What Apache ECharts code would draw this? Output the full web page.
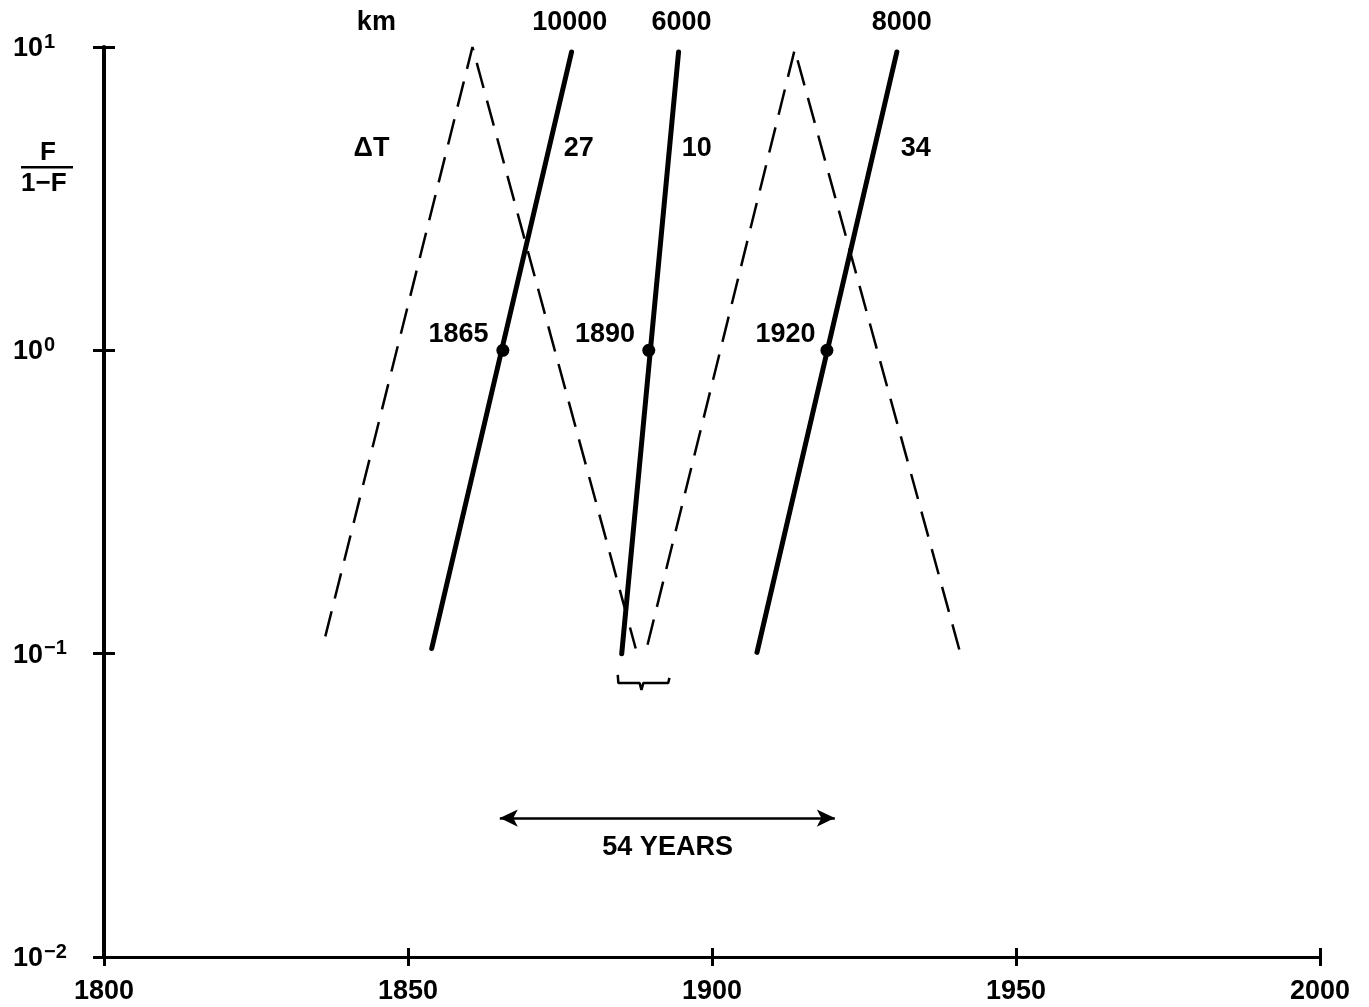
<!DOCTYPE html>
<html>
<head>
<meta charset="utf-8">
<script src="https://cdn.jsdelivr.net/npm/echarts@6/dist/echarts.min.js"></script>
<style>
html,body{margin:0;padding:0;background:#fff;}
#chart{width:1369px;height:1007px;}
</style>
</head>
<body>
<div id="chart"></div>
<script>
// ---- data (x = year, y = F/(1-F), log scale) ----
const xTickYears = [1800, 1850, 1900, 1950, 2000];
const yTickValues = [0.01, 0.1, 1, 10];
const dashedA = [[1836.4, 0.114], [1860.6, 10], [1887.45, 0.104]];
const dashedB = [[1889.4, 0.107], [1913.6, 9.8], [1940.8, 0.101]];
const solid10000 = [[1853.9, 0.104], [1876.9, 9.63]];
const solid6000 = [[1885.15, 0.100], [1894.5, 9.63]];
const solid8000 = [[1907.4, 0.101], [1930.4, 9.63]];
const midpoints = [[1865.6, 1], [1889.6, 1], [1918.9, 1]];
const bracket = [[1884.5, 0.0851], [1884.6, 0.0800], [1888.1, 0.0800], [1888.4, 0.0759], [1888.7, 0.0800], [1892.8, 0.0800], [1893.0, 0.0832]];
const spanArrow = [[1865.1, 0.0287], [1920.2, 0.0287]];
const annotationTexts = ['km', '10000', '6000', '8000', 'ΔT', '27', '10', '34', '1865', '1890', '1920', '54 YEARS'];
const annotationCoords = [
  [1844.8, 12.0], [1876.6, 12.0], [1895.0, 12.0], [1931.2, 12.0],
  [1844.0, 4.64], [1878.1, 4.64], [1897.5, 4.64], [1933.5, 4.64],
  [1858.3, 1.13], [1882.4, 1.13], [1912.1, 1.13], [1892.7, 0.0230]
];

const FONT = "'Liberation Sans', Arial, Helvetica, sans-serif";
const BLACK = '#000';

const chart = echarts.init(document.getElementById('chart'), null, {renderer: 'canvas'});

function supLabel(v) {
  const e = Math.round(Math.log10(v));
  const s = e < 0 ? '\u2212' + (-e) : String(e);
  return '{b|10}{s|' + s + '}';
}

const baseX = {
  type: 'value', min: xTickYears[0], max: xTickYears[xTickYears.length - 1], interval: 50, gridIndex: 0,
  position: 'bottom', splitLine: {show: false}
};
const baseY = {
  type: 'log', logBase: 10, min: yTickValues[0], max: yTickValues[yTickValues.length - 1], gridIndex: 0,
  position: 'left', splitLine: {show: false}, minorTick: {show: false}
};

const solidStyle = {color: BLACK, width: 5, cap: 'round', opacity: 1};
const dashStyle = {color: BLACK, width: 2.5, type: [26, 13], opacity: 1};

function lineSeries(data, style) {
  return {
    type: 'line', data: data, showSymbol: false, symbol: 'none',
    lineStyle: style, silent: true, animation: false, clip: false, z: 3
  };
}

const option = {
  backgroundColor: '#fff',
  animation: false,
  grid: {left: 104, right: 49, top: 47, bottom: 50, containLabel: false},
  xAxis: [
    Object.assign({}, baseX, {
      axisLine: {onZero: false, lineStyle: {color: BLACK, width: 3}},
      axisTick: {show: true, length: 9, lineStyle: {color: BLACK, width: 3}},
      axisLabel: {color: BLACK, fontSize: 27, fontWeight: 'bold', fontFamily: FONT, margin: 21,
        formatter: v => String(v)}
    }),
    Object.assign({}, baseX, {
      axisLine: {show: false, onZero: false},
      axisTick: {show: true, inside: true, length: 9, lineStyle: {color: BLACK, width: 3}},
      axisLabel: {show: false}
    })
  ],
  yAxis: [
    Object.assign({}, baseY, {
      axisLine: {lineStyle: {color: BLACK, width: 4}},
      axisTick: {show: true, length: 11, lineStyle: {color: BLACK, width: 3}},
      axisLabel: {
        color: BLACK, align: 'left', margin: 91,
        formatter: supLabel,
        rich: {
          b: {fontSize: 27, fontWeight: 'bold', fontFamily: FONT, color: BLACK, lineHeight: 30, verticalAlign: 'bottom'},
          s: {fontSize: 20, fontWeight: 'bold', fontFamily: FONT, color: BLACK, lineHeight: 18, verticalAlign: 'top', padding: [0, 0, 0, 1]}
        }
      }
    }),
    Object.assign({}, baseY, {
      axisLine: {show: false},
      axisTick: {show: true, inside: true, length: 11, lineStyle: {color: BLACK, width: 3}},
      axisLabel: {show: false}
    })
  ],
  graphic: [
    {type: 'text', left: 40, top: 140, style: {text: 'F', font: 'bold 26px ' + FONT, fill: BLACK}},
    {type: 'rect', shape: {x: 21, y: 166, width: 52, height: 2.5}, style: {fill: BLACK}},
    {type: 'text', left: 21, top: 171, style: {text: '1\u2212F', font: 'bold 26px ' + FONT, fill: BLACK}}
  ],
  series: [
    lineSeries(dashedA, dashStyle),
    lineSeries(dashedB, dashStyle),
    lineSeries(solid10000, solidStyle),
    lineSeries(solid6000, solidStyle),
    lineSeries(solid8000, solidStyle),
    lineSeries(bracket, {color: BLACK, width: 2.5, opacity: 1}),
    {
      type: 'scatter', data: midpoints, symbol: 'circle', symbolSize: 13,
      itemStyle: {color: BLACK, opacity: 1}, silent: true, z: 5
    },
    {
      type: 'line', data: [], showSymbol: false, silent: true,
      markLine: {
        silent: true, symbol: ['arrow', 'arrow'], symbolSize: [13, 18],
        label: {show: false},
        lineStyle: {color: BLACK, width: 2.5, type: 'solid', opacity: 1},
        itemStyle: {color: BLACK},
        data: [[{coord: spanArrow[0]}, {coord: spanArrow[1]}]]
      }
    },
    {
      type: 'scatter', symbolSize: 0, clip: false, silent: true, z: 6,
      itemStyle: {opacity: 1},
      data: annotationTexts.map((t, i) => ({name: t, value: annotationCoords[i]})),
      label: {
        show: true, position: 'inside', formatter: '{b}', color: BLACK, opacity: 1,
        textBorderWidth: 0,
        fontSize: 27, fontWeight: 'bold', fontFamily: FONT
      }
    }
  ]
};
chart.setOption(option);
</script>
</body>
</html>
